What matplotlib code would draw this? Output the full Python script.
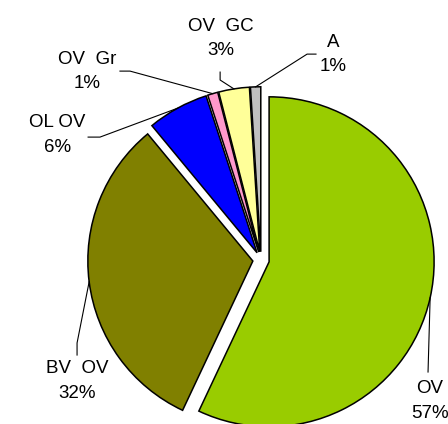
import numpy as np
import matplotlib
matplotlib.use("Agg")
from matplotlib import pyplot as plt

# chart data
categories = ["OV", "BV  OV", "OL OV", "OV  Gr", "OV  GC", "A"]
shares = [57, 32, 6, 1, 3, 1]
colors = ["#99CC00", "#808000", "#0000FF", "#FF99CC", "#FFFF99", "#C0C0C0"]

# label layout (data units, pie radius = 1)
label_pos = [(1.024, -0.855), (-1.115, -0.733), (-1.236, 0.758),
             (-1.055, 1.145), (-0.242, 1.345), (0.436, 1.248)]
leader_start = [(1.012, -0.679), (-1.115, -0.576), (-1.048, 0.745),
                (-0.855, 1.145), (-0.248, 1.139), (0.333, 1.248)]
leader_elbow = [(1.012, -0.679), (-1.115, -0.503), (-0.976, 0.745),
                (-0.794, 1.145), (-0.248, 1.091), (0.279, 1.248)]

plt.rcParams['font.family'] = ['Liberation Sans', 'DejaVu Sans']

fig = plt.figure(figsize=(4.48, 4.24), dpi=100)
ax = fig.add_axes([0, 0, 1, 1])

wedges, _ = ax.pie(shares, colors=colors, startangle=90, counterclock=False,
                   explode=[0.05] * len(shares), radius=1.0,
                   wedgeprops=dict(edgecolor="black", linewidth=1.1))

for i, w in enumerate(wedges):
    mid = np.deg2rad((w.theta1 + w.theta2) / 2)
    cx, cy = w.center
    ex, ey = cx + w.r * np.cos(mid), cy + w.r * np.sin(mid)
    sx, sy = leader_start[i]
    bx, by = leader_elbow[i]
    ax.plot([sx, bx, ex], [sy, by, ey], color="black", linewidth=0.8)
    tx, ty = label_pos[i]
    ax.text(tx, ty, f"{categories[i]}\n{shares[i]}%", ha="center", va="center",
            fontsize=13.5, linespacing=1.55)

ax.set_xlim(-1.582, 1.133)
ax.set_ylim(-0.994, 1.576)
ax.set_aspect("auto")
ax.axis("off")

fig.savefig("out.png", dpi=100)
